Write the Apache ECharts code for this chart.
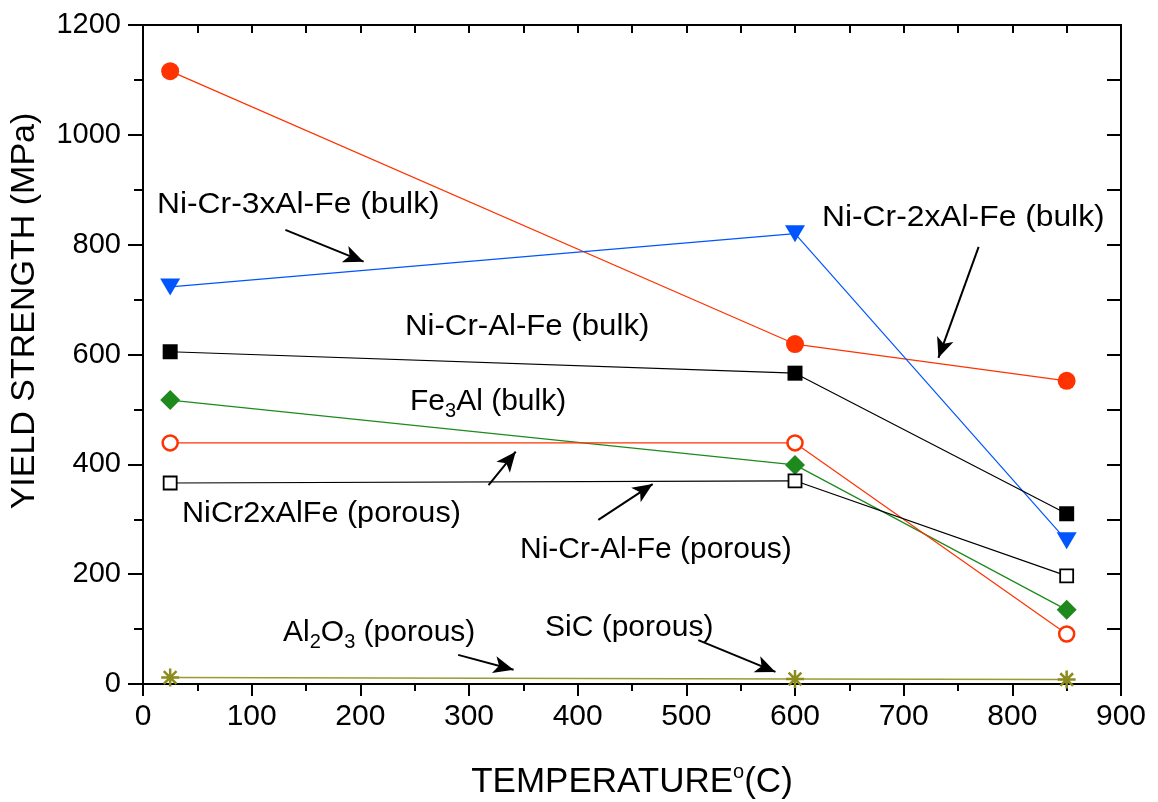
<!DOCTYPE html>
<html><head><meta charset="utf-8">
<script src="https://cdn.jsdelivr.net/npm/echarts@6/dist/echarts.min.js"></script>
<style>html,body{margin:0;padding:0;background:#fff}#c{width:1158px;height:802px}</style>
</head><body><div id="c"></div>
<script>
const temperatures = [25, 600, 850];
const niCr2xAlFeBulk = [1116, 619, 552];
const niCr3xAlFeBulk = [723, 820, 261];
const niCrAlFeBulk = [605, 566, 310];
const fe3AlBulk = [517, 399, 135];
const niCr2xAlFePorous = [439, 439, 91];
const niCrAlFePorous = [366, 370, 197];
const ceramicPorous = [12, 9, 8];

// annotation arrows: [from, to] in data units
const arrows = [
  [[131, 827], [203, 769]],
  [[769, 796], [732, 594]],
  [[318, 362], [343, 423]],
  [[419, 299], [469, 364]],
  [[290, 53], [341, 26]],
  [[511, 80], [582, 22]]
];

function pts(vals){ return temperatures.map((t,i)=>[t, vals[i]]); }

const chart = echarts.init(document.getElementById('c'), null, {renderer:'canvas'});
const FONT = 'Liberation Sans';
const starPath = 'path://M0,-10L0,10M-10,0L10,0M-7.07,-7.07L7.07,7.07M-7.07,7.07L7.07,-7.07';
const ANN_FONT = '30px "Liberation Sans"';
const subRich = {sub:{fontSize:20, fontFamily:FONT, fill:'#000', verticalAlign:'bottom', padding:[18,0,0,0]}};

function ann(text, x, y, sx){
  return {type:'text', x:x, y:y, scaleX:sx||1.05, silent:true,
    style:{text:text, font:ANN_FONT, fill:'#000', align:'left', verticalAlign:'middle'}};
}

const option = {
  animation: false,
  backgroundColor: '#fff',
  textStyle: {fontFamily: FONT},
  grid: {left: 143, right: 37, top: 25, bottom: 118, containLabel: false, outerBoundsMode: 'none'},
  xAxis: [{
    type: 'value', min: 0, max: 900, interval: 100,
    axisLine: {onZero:false, lineStyle: {color: '#000', width: 2}},
    axisTick: {inside: false, length: 12, lineStyle: {color: '#000', width: 2}},
    minorTick: {show: true, splitNumber: 2, length: 7, lineStyle: {color: '#000', width: 2}},
    splitLine: {show: false},
    axisLabel: {color: '#000', fontSize: 30, fontFamily: FONT, margin: 18},
    name: 'TEMPERATURE{s|o}(C)', nameLocation: 'middle', nameGap: 78,
    nameTextStyle: {color: '#000', fontSize: 35, fontFamily: FONT,
      rich: {s: {fontSize: 20, verticalAlign: 'top', padding: [0,0,20,0], fontFamily: FONT, color:'#000'}}}
  },{
    type: 'value', position: 'top', min: 0, max: 900, interval: 50,
    axisLine: {show: true, onZero:false, lineStyle: {color: '#000', width: 2}},
    axisTick: {show: true, inside: true, length: 8, lineStyle: {color: '#000', width: 2}},
    axisLabel: {show: false}, splitLine: {show: false}
  }],
  yAxis: [{
    type: 'value', min: 0, max: 1200, interval: 200,
    axisLine: {show: true, onZero:false, lineStyle: {color: '#000', width: 2}},
    axisTick: {show: true, inside: false, length: 15, lineStyle: {color: '#000', width: 2}},
    minorTick: {show: true, splitNumber: 2, length: 9, lineStyle: {color: '#000', width: 2}},
    splitLine: {show: false},
    axisLabel: {color: '#000', fontSize: 29, fontFamily: FONT, margin: 22, formatter: v => String(v)}
  },{
    type: 'value', position: 'right', min: 0, max: 1200, interval: 100,
    axisLine: {show: true, onZero:false, lineStyle: {color: '#000', width: 2}},
    axisTick: {show: true, inside: true, length: 14, lineStyle: {color: '#000', width: 2}},
    axisLabel: {show: false}, splitLine: {show: false}
  }],
  series: [
    {name:'Ni-Cr-2xAl-Fe (bulk)', type:'line', data: pts(niCr2xAlFeBulk), symbol:'circle', symbolSize:18,
      itemStyle:{color:'#ff3300'}, lineStyle:{color:'#ff3300', width:1.2}, z:5},
    {name:'Ni-Cr-3xAl-Fe (bulk)', type:'line', data: pts(niCr3xAlFeBulk), symbol:'triangle', symbolRotate:180, symbolSize:[20,17],
      itemStyle:{color:'#0055ff'}, lineStyle:{color:'#0055ff', width:1.2}, z:5},
    {name:'Ni-Cr-Al-Fe (bulk)', type:'line', data: pts(niCrAlFeBulk), symbol:'rect', symbolSize:15,
      itemStyle:{color:'#000'}, lineStyle:{color:'#000', width:1.2}, z:5},
    {name:'Fe3Al (bulk)', type:'line', data: pts(fe3AlBulk), symbol:'diamond', symbolSize:[20,20],
      itemStyle:{color:'#1e8a1e'}, lineStyle:{color:'#1e8a1e', width:1.2}, z:5},
    {name:'NiCr2xAlFe (porous)', type:'line', data: pts(niCr2xAlFePorous), symbol:'circle', symbolSize:15,
      itemStyle:{color:'#fff', borderColor:'#ff3300', borderWidth:2.5}, lineStyle:{color:'#ff3300', width:1.2}, z:5},
    {name:'Ni-Cr-Al-Fe (porous)', type:'line', data: pts(niCrAlFePorous), symbol:'rect', symbolSize:13,
      itemStyle:{color:'#fff', borderColor:'#000', borderWidth:1.8}, lineStyle:{color:'#000', width:1.2}, z:5},
    {name:'Al2O3 / SiC (porous)', type:'line', data: pts(ceramicPorous), symbol: starPath, symbolSize:18,
      itemStyle:{color:'#8b8b1e', borderColor:'#8b8b1e', borderWidth:2.5}, lineStyle:{color:'#9a9a33', width:1.5}, z:5,
      markLine: {
        silent: true, animation: false, symbol: ['none','arrow'], symbolSize: [13, 20],
        label: {show: false},
        lineStyle: {color:'#000', width:2, type:'solid'},
        data: arrows.map(a => [{coord: a[0]}, {coord: a[1]}])
      }}
  ],
  graphic: [
    {type:'text', x:25, y:311, rotation:Math.PI/2, silent:true,
      style:{text:'YIELD STRENGTH (MPa)', font:'34px "Liberation Sans"', fill:'#000', align:'center', verticalAlign:'middle'}},
    ann('Ni-Cr-3xAl-Fe (bulk)', 157, 205, 1.06),
    ann('Ni-Cr-2xAl-Fe (bulk)', 822, 218, 1.06),
    ann('Ni-Cr-Al-Fe (bulk)', 405, 327, 1.04),
    {type:'text', x:410, y:402, scaleX:1.0, silent:true,
      style:{text:'Fe{sub|3}Al (bulk)', font:ANN_FONT, fill:'#000', align:'left', verticalAlign:'middle', rich:subRich}},
    ann('NiCr2xAlFe (porous)', 182, 514, 1.02),
    ann('Ni-Cr-Al-Fe (porous)', 520, 550, 1.0),
    {type:'text', x:283, y:633, scaleX:1.0, silent:true,
      style:{text:'Al{sub|2}O{sub|3} (porous)', font:ANN_FONT, fill:'#000', align:'left', verticalAlign:'middle', rich:subRich}},
    ann('SiC (porous)', 545, 628, 1.0)
  ]
};
chart.setOption(option);
</script>
</body></html>
